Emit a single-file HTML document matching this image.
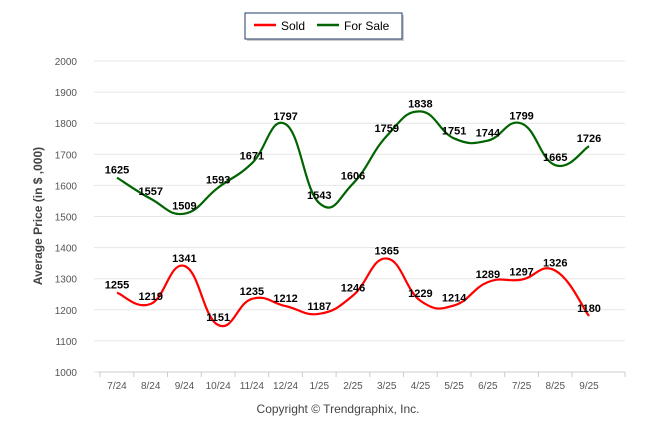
<!DOCTYPE html>
<html><head><meta charset="utf-8"><style>
body{margin:0;background:#fff;font-family:"Liberation Sans",sans-serif}
svg text{font-family:"Liberation Sans",sans-serif}
</style></head><body>
<svg id="c" width="646" height="434">
<g>
<rect x="247" y="15" width="157" height="26" fill="#999" opacity="0.5"/>
<rect x="245" y="13" width="157" height="26" fill="#fff" stroke="#1f3864" stroke-width="1"/>
<line x1="254" y1="25" x2="276" y2="25" stroke="#ff0000" stroke-width="2.5"/>
<text x="281" y="30" font-size="12" fill="#000">Sold</text>
<line x1="317" y1="25" x2="339" y2="25" stroke="#006400" stroke-width="2.5"/>
<text x="344" y="30" font-size="12" fill="#000">For Sale</text>
</g>
<text transform="translate(42,216) rotate(-90)" text-anchor="middle" font-size="12" font-weight="bold" fill="#444">Average Price (in $ ,000)</text>
<text x="338" y="413" text-anchor="middle" font-size="12" fill="#444">Copyright © Trendgraphix, Inc.</text>
<g id="grid"></g><g id="series"></g><g id="labels"></g>
</svg>
<script>
const categories=["7/24","8/24","9/24","10/24","11/24","12/24","1/25","2/25","3/25","4/25","5/25","6/25","7/25","8/25","9/25"];
const sold=[1255,1219,1341,1151,1235,1212,1187,1246,1365,1229,1214,1289,1297,1326,1180];
const forSale=[1625,1557,1509,1593,1671,1797,1543,1606,1759,1838,1751,1744,1799,1665,1726];
const yTicks=[1000,1100,1200,1300,1400,1500,1600,1700,1800,1900,2000];
const NS="http://www.w3.org/2000/svg";
const X0=98,X1=625,Y0=372,Y1=61;
function xs(i){return 117+i*(589-117)/(categories.length-1);}
function ys(v){return Y0-(v-1000)/(2000-1000)*(Y0-Y1);}
function mk(t,a,p){const e=document.createElementNS(NS,t);for(const k in a)e.setAttribute(k,a[k]);p.appendChild(e);return e;}
const grid=document.getElementById('grid');
yTicks.forEach(v=>{
 const l=mk('line',{x1:X0-4,x2:X1,y1:ys(v),y2:ys(v),stroke:'#e6e6e6'},grid);
 
 
 const t=mk('text',{x:77,y:ys(v)+4,'text-anchor':'end','font-size':'10',fill:'#555'},grid);t.textContent=v;
 
 
});
mk('line',{x1:X0,x2:X1,y1:Y0,y2:Y0,stroke:'#ccc'},grid);
categories.forEach((c,i)=>{
 mk('line',{x1:xs(i)-16.9,x2:xs(i)-16.9,y1:Y0,y2:Y0+5,stroke:'#ccc'},grid);
 const t=mk('text',{x:xs(i),y:389,'text-anchor':'middle','font-size':'10',fill:'#555'},grid);t.textContent=c;
 
 
});
mk('line',{x1:X1,x2:X1,y1:Y0,y2:Y0+5,stroke:'#ccc'},grid);
function path(vals){
 const p=vals.map((v,i)=>[xs(i),ys(v)]);let d='M'+p[0][0]+','+p[0][1];
 for(let i=0;i<p.length-1;i++){
  const a=p[Math.max(0,i-1)],b=p[i],c=p[i+1],e=p[Math.min(p.length-1,i+2)],k=0.22;
  d+=' C'+(b[0]+(c[0]-a[0])*k)+','+(b[1]+(c[1]-a[1])*k)+' '+(c[0]-(e[0]-b[0])*k)+','+(c[1]-(e[1]-b[1])*k)+' '+c[0]+','+c[1];
 }return d;}
const S=document.getElementById('series'),L=document.getElementById('labels');
[[sold,'#ff0000','sold-line'],[forSale,'#006400','for-sale-line']].forEach(([vals,col,name])=>{
 const p=mk('path',{d:path(vals),fill:'none',stroke:col,'stroke-width':'2.2'},S);
 
 
 vals.forEach((v,i)=>{
  const t=mk('text',{x:xs(i),y:ys(v)-4,'text-anchor':'middle','font-size':'11','font-weight':'bold',fill:'#000'},L);t.textContent=v;
  
  
 });
});
</script>
</body></html>
